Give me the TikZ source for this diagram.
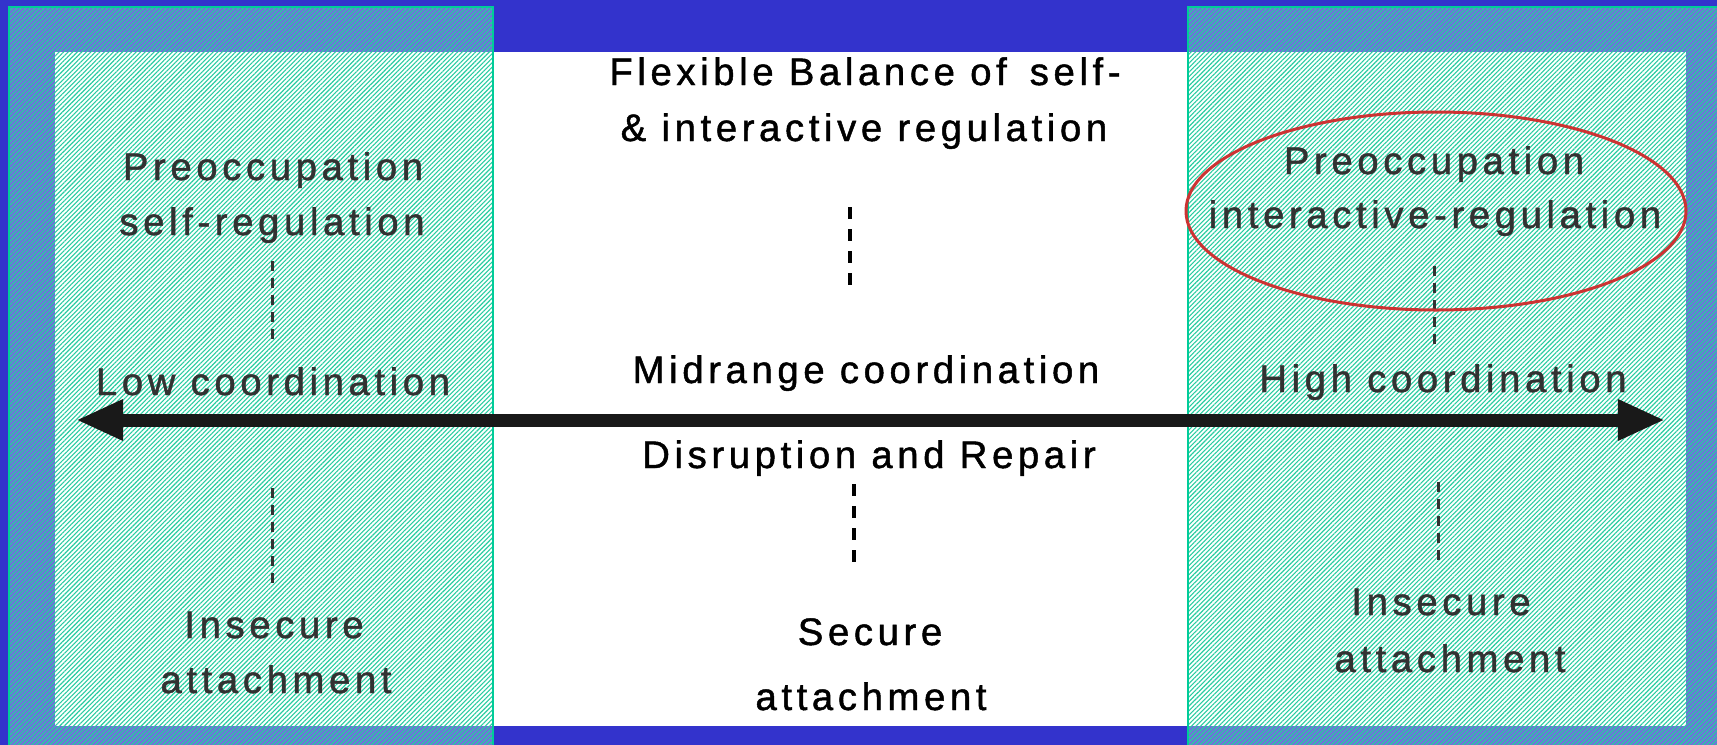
\documentclass[tikz,border=0pt]{standalone}
\usepackage{fontspec}
\newfontfamily\diagfont{Liberation Sans}[LetterSpace=12.0,FakeBold=1.2]
\usepackage{tikz}
\usetikzlibrary{arrows.meta}
\usetikzlibrary{patterns.meta}
\usetikzlibrary{calc}
\definecolor{bgblue}{RGB}{51,51,204}
\definecolor{hatchgreen}{RGB}{40,205,160}
\definecolor{edgegreen}{RGB}{0,204,153}
\definecolor{ringred}{RGB}{204,51,51}
\definecolor{sidegray}{RGB}{50,50,50}
\tikzstyle{term}=[inner sep=0pt,anchor=base,font={\diagfont\fontsize{10.9pt}{13pt}\selectfont}]
\tikzstyle{sideterm}=[term,text=sidegray]
\tikzstyle{panel}=[draw=edgegreen,line width=0.02cm,pattern={Lines[angle=45,distance=0.032cm,line width=0.011cm]},pattern color=hatchgreen]

\begin{document}
\begin{tikzpicture}[x=0.01cm,y=-0.01cm,
  dashline/.style={line width=0.035cm,dash pattern=on 0.12cm off 0.1cm},
  sidedash/.style={line width=0.03cm,sidegray,dash pattern=on 0.1cm off 0.07cm},
  axis/.style={line width=0.13cm,black!90,<->,>={Triangle[length=0.47cm,width=0.38cm]}},
  ring/.style={draw=ringred,line width=0.03cm}]
\useasboundingbox (0,0) rectangle (1717,745);
\fill[bgblue] (0,0) rectangle (1717,745);
\fill[white] (55,52) rectangle (1686,726);

% hatched side panels
\fill[white,opacity=.3] (9,7) rectangle (493,760);
\fill[white,opacity=.3] (1188,7) rectangle (1730,760);
\path[panel] (9,7) rectangle (493,760);
\path[panel] (1188,7) rectangle (1730,760);

\coordinate (lefttip) at (76,420);
\coordinate (righttip) at (1665,420);
\draw[axis] (lefttip) -- (righttip);

% middle column
\node [term] (flex) at (865,85) {Flexible Balance of\hspace{0.6em}self-};
\node [term] (inter) at (864,141) {\& interactive regulation};
\node [term] (mid) at (866,383) {Midrange coordination};
\node [term] (disr) at (869,468) {Disruption and Repair};
\node [term] (sec) at (870,645) {Secure};
\node [term] (secatt) at (871,710) {attachment};

% left column
\node [sideterm] (lpre) at (273,180) {Preoccupation};
\node [sideterm] (lself) at (272,235) {self-regulation};
\node [sideterm] (llow) at (273,395) {Low coordination};
\node [sideterm] (lins) at (274,638) {Insecure};
\node [sideterm] (latt) at (276,693) {attachment};

% right column
\node [sideterm] (rpre) at (1434,174) {Preoccupation};
\node [sideterm] (rinter) at (1435,228) {interactive-regulation};
\node [sideterm] (rhigh) at (1443,392) {High coordination};
\node [sideterm] (rins) at (1441,615) {Insecure};
\node [sideterm] (ratt) at (1450,672) {attachment};

\draw[dashline] ($(inter.base)+(-14,66)$) -- ($(mid.base)+(-16,-98)$);
\draw[dashline] ($(disr.base)+(-15,16)$) -- ($(sec.base)+(-16,-82)$);
\draw[sidedash] ($(lself.base)+(0,26)$) -- ($(llow.base)+(-1,-55)$);
\draw[sidedash] ($(llow.base)+(-1,93)$) -- ($(lins.base)+(-2,-51)$);
\draw[sidedash] ($(rinter.base)+(-1,38)$) -- ($(rhigh.base)+(-9,-44)$);
\draw[sidedash] ($(rhigh.base)+(-5,90)$) -- ($(rins.base)+(-3,-55)$);

\draw[ring] ($(rinter.base)+(1,-17)$) ellipse [x radius=250,y radius=99];
\end{tikzpicture}
\end{document}
